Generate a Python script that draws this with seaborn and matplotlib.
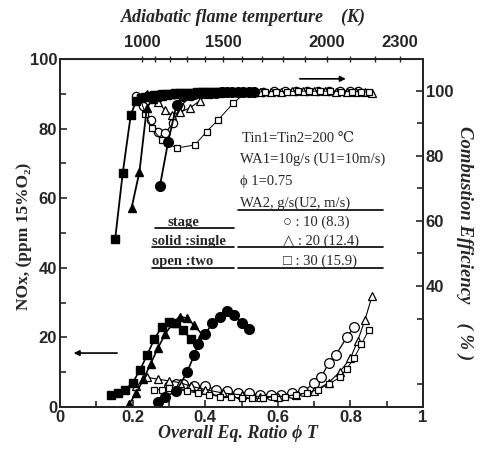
import numpy as np
import pandas as pd
import matplotlib
matplotlib.use("Agg")
import matplotlib.pyplot as plt
import seaborn as sns

# ---------------- data ----------------
# Combustion efficiency (%) vs overall equivalence ratio (right axis)
eff_sq_solid_phi = [0.152, 0.173, 0.195, 0.210, 0.222, 0.234, 0.246, 0.258, 0.27, 0.282, 0.294, 0.306, 0.318, 0.33, 0.342, 0.354, 0.366, 0.378, 0.39, 0.402, 0.414, 0.426, 0.438, 0.45]
eff_sq_solid = [54.5, 74.9, 92.6, 97.0, 97.8, 98.2, 98.5, 98.7, 98.8, 99.0, 99.1, 99.1, 99.2, 99.3, 99.3, 99.4, 99.4, 99.5, 99.5, 99.5, 99.6, 99.6, 99.6, 99.7]
eff_tri_solid_phi = [0.197, 0.219, 0.239, 0.255, 0.268, 0.281, 0.294, 0.307, 0.32, 0.333, 0.346, 0.359, 0.372, 0.385, 0.398, 0.411, 0.424, 0.437, 0.45, 0.463, 0.476, 0.489, 0.50]
eff_tri_solid = [63.9, 75.2, 94.7, 97.6, 98.2, 98.5, 98.8, 99.0, 99.1, 99.2, 99.3, 99.3, 99.4, 99.4, 99.5, 99.5, 99.5, 99.6, 99.6, 99.6, 99.7, 99.7, 99.7]
eff_cir_solid_phi = [0.275, 0.298, 0.321, 0.340, 0.355, 0.37, 0.385, 0.40, 0.415, 0.43, 0.445, 0.46, 0.475, 0.49, 0.505, 0.52, 0.535]
eff_cir_solid = [70.6, 84.4, 95.7, 98.3, 98.8, 99.0, 99.2, 99.3, 99.4, 99.4, 99.5, 99.5, 99.6, 99.6, 99.7, 99.7, 99.8]

eff_cir_open_phi = [0.21, 0.23, 0.25, 0.27, 0.29, 0.31, 0.33, 0.36, 0.40, 0.45, 0.50, 0.53, 0.56, 0.59, 0.62, 0.65, 0.68, 0.71, 0.74, 0.77, 0.80, 0.82]
eff_cir_open = [98.5, 95.5, 91.0, 87.5, 87.0, 90.0, 95.0, 98.5, 99.3, 99.6, 99.7, 99.8, 99.8, 99.9, 99.9, 99.9, 100.0, 100.0, 100.0, 100.0, 100.0, 100.0]
eff_tri_open_phi = [0.24, 0.27, 0.29, 0.308, 0.33, 0.358, 0.385, 0.409, 0.44, 0.48, 0.52, 0.55, 0.58, 0.61, 0.64, 0.67, 0.70, 0.73, 0.76, 0.79, 0.815, 0.84, 0.86]
eff_tri_open = [99.0, 96.5, 94.0, 92.6, 93.5, 94.7, 97.0, 99.0, 99.4, 99.6, 99.7, 99.8, 99.8, 99.8, 99.9, 99.9, 99.9, 99.9, 99.8, 99.7, 99.6, 99.5, 99.4]
eff_sq_open_phi = [0.22, 0.235, 0.253, 0.280, 0.321, 0.372, 0.404, 0.436, 0.477, 0.51, 0.535, 0.565, 0.595, 0.625, 0.655, 0.685, 0.715, 0.745, 0.775, 0.805, 0.83, 0.85]
eff_sq_open = [98.0, 93.0, 88.5, 84.9, 82.4, 83.4, 87.5, 91.1, 96.2, 99.3, 99.6, 99.7, 99.8, 99.8, 99.9, 99.9, 99.9, 99.9, 99.8, 99.8, 99.7, 99.7]

# NOx (ppm 15%O2) vs overall equivalence ratio (left axis)
nox_sq_solid_phi = [0.14, 0.16, 0.18, 0.20, 0.22, 0.24, 0.26, 0.28, 0.30, 0.32, 0.34, 0.36]
nox_sq_solid = [3.5, 4.0, 5.0, 7.0, 10.5, 15.0, 19.5, 23.0, 24.5, 24.0, 22.0, 19.5]
nox_tri_solid_phi = [0.19, 0.21, 0.23, 0.25, 0.27, 0.29, 0.31, 0.33, 0.35, 0.37, 0.39]
nox_tri_solid = [0.8, 4.0, 8.0, 12.5, 17.0, 21.0, 24.0, 26.0, 25.5, 23.5, 21.0]
nox_cir_solid_phi = [0.27, 0.29, 0.32, 0.35, 0.37, 0.38, 0.40, 0.42, 0.44, 0.46, 0.48, 0.50, 0.52]
nox_cir_solid = [1.5, 3.0, 4.5, 10.0, 15.0, 18.0, 21.0, 24.0, 26.0, 27.5, 26.5, 24.0, 22.5]

nox_cir_open_phi = [0.30, 0.32, 0.34, 0.37, 0.40, 0.43, 0.46, 0.49, 0.52, 0.55, 0.58, 0.61, 0.64, 0.67, 0.70, 0.72, 0.74, 0.76, 0.79, 0.81]
nox_cir_open = [6.0, 6.5, 6.5, 6.0, 6.0, 5.0, 4.5, 4.0, 4.0, 3.5, 3.5, 3.5, 4.0, 4.5, 6.8, 8.7, 12.6, 15.0, 20.0, 23.0]
nox_tri_open_phi = [0.21, 0.24, 0.27, 0.30, 0.33, 0.36, 0.40, 0.45, 0.50, 0.55, 0.60, 0.65, 0.70, 0.74, 0.77, 0.80, 0.82, 0.84, 0.86]
nox_tri_open = [6.0, 8.5, 8.0, 7.5, 7.0, 6.0, 5.0, 4.0, 3.5, 3.0, 3.0, 3.5, 4.5, 7.0, 10.0, 14.0, 19.0, 25.0, 32.0]
nox_sq_open_phi = [0.26, 0.28, 0.30, 0.32, 0.35, 0.38, 0.41, 0.44, 0.47, 0.50, 0.53, 0.56, 0.59, 0.62, 0.65, 0.68, 0.71, 0.74, 0.77, 0.79, 0.81, 0.83, 0.85]
nox_sq_open = [5.0, 5.0, 5.5, 5.0, 4.5, 4.0, 3.5, 3.0, 3.0, 2.5, 2.5, 2.5, 3.0, 3.0, 3.5, 4.0, 5.0, 6.5, 8.5, 11.0, 14.0, 18.0, 22.0]

# top axis: adiabatic flame temperature ticks and their phi positions
temp_ticks = [1000, 1100, 1200, 1300, 1400, 1500, 1600, 1700, 1800, 1900, 2000, 2100, 2200, 2300]
temp_tick_phi = [0.226, 0.262, 0.303, 0.349, 0.399, 0.449, 0.501, 0.556, 0.614, 0.675, 0.735, 0.799, 0.868, 0.937]
temp_labels = [1000, 1500, 2000, 2300]

# ---------------- style ----------------
sns.set_style("ticks")
plt.rcParams['font.family'] = ['Liberation Sans', 'DejaVu Sans']
SERIF = ['Liberation Serif', 'DejaVu Serif']

fig = plt.figure(figsize=(4.8, 4.55), dpi=100)
L, R, B, T = 60, 423, 407, 59
W, H = 480, 455
ax = fig.add_axes([L / W, 1 - B / H, (R - L) / W, (B - T) / H])
ax2 = ax.twinx()

def draw(axis, x, y, marker, filled, size, lw):
    df = pd.DataFrame({"x": x, "y": y})
    sns.lineplot(data=df, x="x", y="y", ax=axis, sort=False, color="black",
                 lw=lw, marker=marker, markersize=size,
                 markerfacecolor="black" if filled else "white",
                 markeredgecolor="black", markeredgewidth=1.0 if filled else 0.9)

# NOx on left axis
draw(ax, nox_cir_open_phi, nox_cir_open, "o", False, 7, 0.9)
draw(ax, nox_tri_open_phi, nox_tri_open, "^", False, 6, 0.8)
draw(ax, nox_sq_open_phi, nox_sq_open, "s", False, 5, 0.7)
draw(ax, nox_sq_solid_phi, nox_sq_solid, "s", True, 5.5, 1.2)
draw(ax, nox_tri_solid_phi, nox_tri_solid, "^", True, 6, 1.2)
draw(ax, nox_cir_solid_phi, nox_cir_solid, "o", True, 7, 1.2)

# efficiency on right axis
draw(ax2, eff_cir_open_phi, eff_cir_open, "o", False, 6, 0.9)
draw(ax2, eff_tri_open_phi, eff_tri_open, "^", False, 6, 0.8)
draw(ax2, eff_sq_open_phi, eff_sq_open, "s", False, 5, 0.7)
draw(ax2, eff_sq_solid_phi, eff_sq_solid, "s", True, 5.5, 1.3)
draw(ax2, eff_tri_solid_phi, eff_tri_solid, "^", True, 6, 1.3)
draw(ax2, eff_cir_solid_phi, eff_cir_solid, "o", True, 7, 1.3)

ax.set_xlim(0, 1)
ax.set_ylim(0, 100)
ax2.set_ylim(2.8, 109.8)

ax.set_xticks([0, 0.2, 0.4, 0.6, 0.8, 1.0])
ax.set_xticklabels(["0", "0.2", "0.4", "0.6", "0.8", "1"])
ax.set_xticks(np.arange(0.1, 1.0, 0.2), minor=True)
ax.set_yticks([0, 20, 40, 60, 80, 100])
ax.set_yticks(np.arange(10, 100, 20), minor=True)
ax2.set_yticks([40, 60, 80, 100])
ax2.set_yticks([10, 30, 50, 70, 90], minor=True)

for a in (ax, ax2):
    a.set_xlabel("")
    a.set_ylabel("")
    for s in a.spines.values():
        s.set_linewidth(1.4)
        s.set_visible(True)
ax.tick_params(axis="both", which="both", direction="in", width=1.2, labelsize=12)
ax.tick_params(which="major", length=5, pad=2)
ax.tick_params(which="minor", length=4)
ax2.tick_params(axis="y", which="both", direction="in", width=1.2, labelsize=12, pad=2)
ax2.tick_params(which="major", length=5)
ax2.tick_params(which="minor", length=4)
for lab in ax.get_xticklabels() + ax.get_yticklabels() + ax2.get_yticklabels():
    lab.set_fontweight("bold")

# top temperature axis
top = ax.secondary_xaxis("top")
top.set_xticks(temp_tick_phi)
top.set_xticklabels([str(t) if t in temp_labels else "" for t in temp_ticks])
top.tick_params(direction="inout", length=5, width=1.0, labelsize=12, pad=4)
for lab in top.get_xticklabels():
    lab.set_fontweight("bold")

# axis titles
fig.text(243 / W, 1 - 17 / H, "Adiabatic flame temperture    (K)", ha="center", va="center",
         fontsize=13, fontweight="bold", style="italic", family=SERIF)
fig.text(238 / W, 1 - 433 / H, "Overall Eq. Ratio \u03d5 T", ha="center", va="center",
         fontsize=13, fontweight="bold", style="italic", family=SERIF)
fig.text(24 / W, 1 - 236 / H, "NOx, (ppm 15%O\u2082)", ha="center", va="center", rotation=90,
         fontsize=12.5, fontweight="bold", family=SERIF)
fig.text(465 / W, 1 - 243 / H, "Combustion Efficiency    ( % )", ha="center", va="center", rotation=270,
         fontsize=13.5, fontweight="bold", style="italic", family=SERIF)

# annotations (axes fraction coordinates)
def px(xp, yp):
    return (xp - L) / (R - L), (B - yp) / (B - T)

tkw = dict(transform=ax.transAxes, family=SERIF, fontsize=10.5, va="center")
ax.text(*px(242, 138), "Tin1=Tin2=200 \u2103", ha="left", **tkw)
ax.text(*px(240, 159), "WA1=10g/s (U1=10m/s)", ha="left", **tkw)
ax.text(*px(240, 181), "\u03d5 1=0.75", ha="left", **tkw)
ax.text(*px(240, 203), "WA2, g/s(U2, m/s)", ha="left", **tkw)
ax.text(*px(183, 222), "stage", ha="center", fontweight="bold", **tkw)
ax.text(*px(152, 241), "solid :single", ha="left", fontweight="bold", **tkw)
ax.text(*px(152, 261), "open :two", ha="left", fontweight="bold", **tkw)
ax.text(*px(283, 222), "\u25cb : 10 (8.3)", ha="left", **tkw)
ax.text(*px(283, 241), "\u25b3 : 20 (12.4)", ha="left", **tkw)
ax.text(*px(283, 261), "\u25a1 : 30 (15.9)", ha="left", **tkw)

def hline(x0, x1, yp, lw=1.2):
    a0, b0 = px(x0, yp)
    a1, _ = px(x1, yp)
    ax.plot([a0, a1], [b0, b0], transform=ax.transAxes, color="black", lw=lw, clip_on=False)

hline(238, 383, 210)
hline(155, 234, 228)
hline(152, 234, 247)
hline(238, 383, 247)
hline(152, 234, 268)
hline(238, 383, 268)

# arrows
ax.annotate("", xy=(0.03, 15.5), xytext=(0.165, 15.5),
            arrowprops=dict(arrowstyle="-|>", color="black", lw=1.2, mutation_scale=8))
ax2.annotate("", xy=(0.795, 103.7), xytext=(0.653, 103.7),
             arrowprops=dict(arrowstyle="-|>", color="black", lw=1.2, mutation_scale=8))

fig.savefig("out.png", dpi=100)
